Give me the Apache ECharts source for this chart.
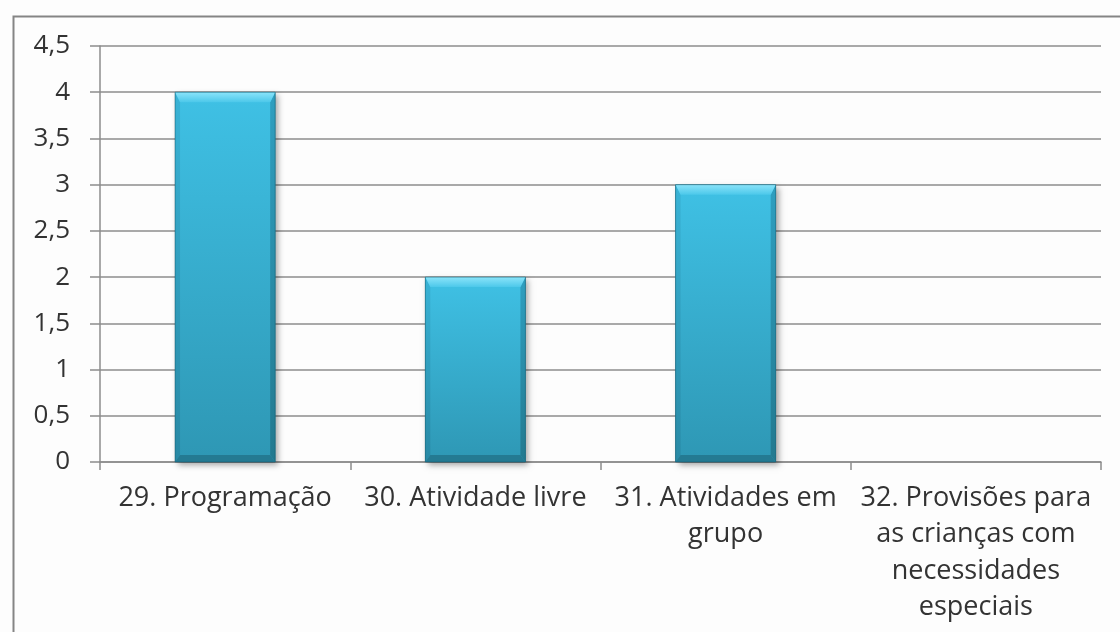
<!DOCTYPE html>
<html>
<head>
<meta charset="utf-8">
<script src="https://cdn.jsdelivr.net/npm/echarts@6/dist/echarts.min.js"></script>
<style>
  html, body { margin: 0; padding: 0; background: #ffffff; }
  #chart { width: 1120px; height: 632px; }
</style>
</head>
<body>
<div id="chart"></div>
<script>
// Item categories (wrapped as they appear under the axis)
const categories = [
  '29. Programação',
  '30. Atividade livre',
  '31. Atividades em\ngrupo',
  '32. Provisões para\nas crianças com\nnecessidades\nespeciais'
];
// Score for each item
const values = [4, 2, 3, 0];
// Value axis range
const yMin = 0;
const yMax = 4.5;
const yStep = 0.5;

const FONT = '"Open Sans", "DejaVu Sans", sans-serif';

// Bevelled bar: body with vertical gradient plus lighter top edge and darker sides/bottom
function renderBevelBar(params, api) {
  const idx = api.value(0);
  const val = api.value(1);
  if (!val) return null;
  const top = api.coord([idx, val]);
  const base = api.coord([idx, 0]);
  const w = api.size([1, 0])[0] * 0.4;
  const x0 = top[0] - w / 2;
  const x1 = top[0] + w / 2;
  const y0 = top[1];
  const y1 = base[1];
  const bt = 10;  // top bevel depth
  const bs = 5;   // side bevel depth
  const bb = 7;   // bottom bevel depth
  return {
    type: 'group',
    children: [
      { // soft drop shadow
        type: 'rect',
        shape: { x: x0, y: y0, width: w, height: y1 - y0 },
        style: { fill: '#2a8aa5', shadowBlur: 6, shadowOffsetX: 3, shadowOffsetY: 3, shadowColor: 'rgba(0,0,0,0.35)' }
      },
      { // main face
        type: 'rect',
        shape: { x: x0, y: y0, width: w, height: y1 - y0 },
        style: {
          fill: new echarts.graphic.LinearGradient(0, 0, 0, 1, [
            { offset: 0, color: '#3fc1e5' },
            { offset: 1, color: '#2e97b4' }
          ])
        }
      },
      { // left bevel
        type: 'polygon',
        shape: { points: [[x0, y0], [x0 + bs, y0 + bt], [x0 + bs, y1 - bb], [x0, y1]] },
        style: {
          fill: new echarts.graphic.LinearGradient(0, 0, 0, 1, [
            { offset: 0, color: '#39b3d6' },
            { offset: 1, color: '#2889a5' }
          ])
        }
      },
      { // right bevel
        type: 'polygon',
        shape: { points: [[x1, y0], [x1 - bs, y0 + bt], [x1 - bs, y1 - bb], [x1, y1]] },
        style: {
          fill: new echarts.graphic.LinearGradient(0, 0, 0, 1, [
            { offset: 0, color: '#2f9fc0' },
            { offset: 1, color: '#23798f' }
          ])
        }
      },
      { // bottom bevel
        type: 'polygon',
        shape: { points: [[x0, y1], [x0 + bs, y1 - bb], [x1 - bs, y1 - bb], [x1, y1]] },
        style: { fill: '#247a92' }
      },
      { // top bevel highlight
        type: 'polygon',
        shape: { points: [[x0, y0], [x1, y0], [x1 - bs, y0 + bt], [x0 + bs, y0 + bt]] },
        style: {
          fill: new echarts.graphic.LinearGradient(0, 0, 0, 1, [
            { offset: 0, color: '#8be4fa' },
            { offset: 1, color: '#4cc8ea' }
          ])
        }
      },
      { // thin dark outline
        type: 'rect',
        shape: { x: x0, y: y0, width: w, height: y1 - y0 },
        style: { fill: null, stroke: 'rgba(20,90,110,0.55)', lineWidth: 1 }
      }
    ]
  };
}

const chart = echarts.init(document.getElementById('chart'), null, { renderer: 'canvas' });

chart.setOption({
  backgroundColor: '#fdfdfd',
  animation: false,
  graphic: [
    { // frame around the chart area
      type: 'rect',
      left: 11, top: 14,
      shape: { width: 1200, height: 700 },
      style: { fill: null, stroke: '#858585', lineWidth: 2 },
      z: -1
    }
  ],
  grid: { left: 100, right: 19, top: 46, bottom: 170, containLabel: false },
  xAxis: {
    type: 'category',
    data: categories,
    boundaryGap: true,
    axisLine: { show: true, lineStyle: { color: '#8c8c8c', width: 1.5 } },
    axisTick: { show: true, alignWithLabel: false, length: 8, lineStyle: { color: '#8c8c8c', width: 1.5 } },
    axisLabel: {
      interval: 0,
      margin: 18,
      color: '#333333',
      fontFamily: FONT,
      fontSize: 27,
      lineHeight: 36.5,
      align: 'center'
    },
    splitLine: { show: false }
  },
  yAxis: {
    type: 'value',
    min: yMin,
    max: yMax,
    interval: yStep,
    axisLine: { show: true, lineStyle: { color: '#8c8c8c', width: 1.5 } },
    axisTick: { show: true, inside: false, length: 10, lineStyle: { color: '#8c8c8c', width: 1.5 } },
    axisLabel: {
      margin: 30,
      color: '#333333',
      fontFamily: FONT,
      fontSize: 26,
      formatter: v => String(v).replace('.', ',')
    },
    splitLine: { show: true, lineStyle: { color: '#8c8c8c', width: 1.5 } }
  },
  series: [
    {
      type: 'custom',
      renderItem: renderBevelBar,
      encode: { x: 0, y: 1 },
      data: values.map((v, i) => [i, v]),
      z: 3
    }
  ]
});
</script>
</body>
</html>
